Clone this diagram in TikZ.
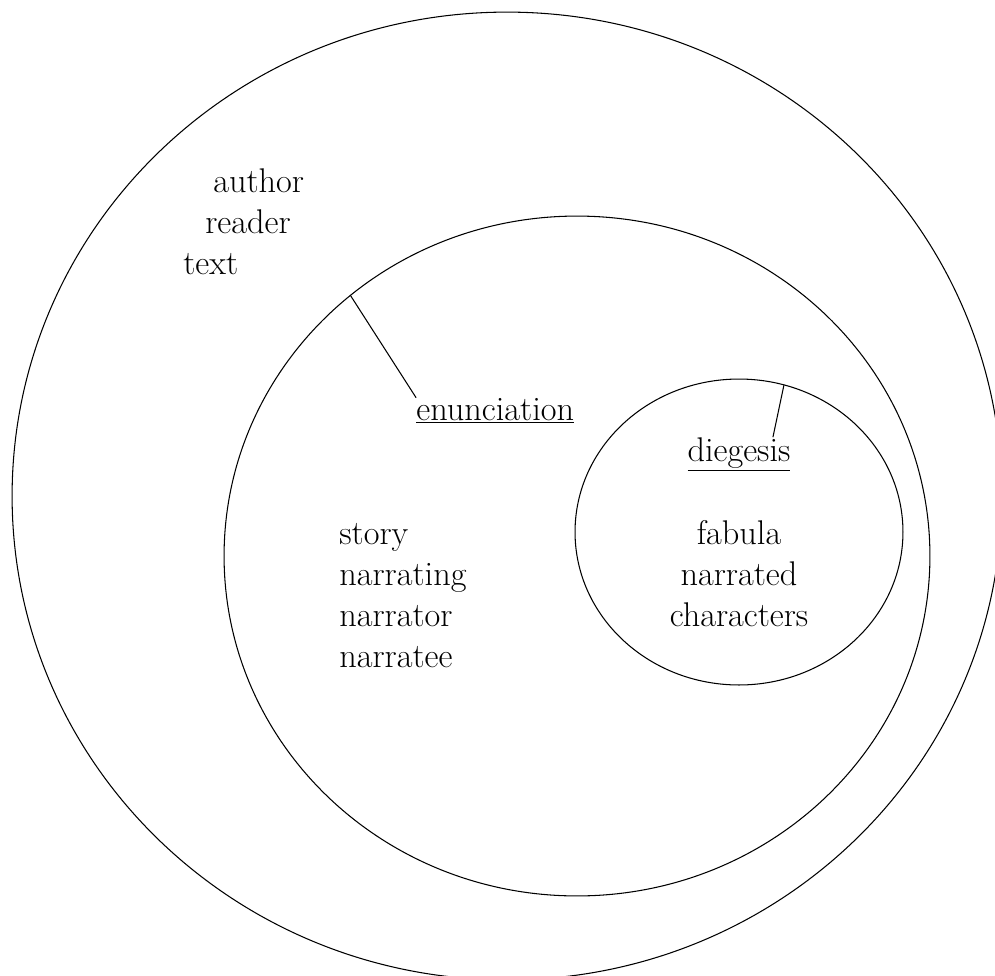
\documentclass[tikz,border=0pt]{standalone}
\usetikzlibrary{shapes.geometric,calc}

\tikzset{
  ring/.style={draw, ellipse, inner sep=0pt, outer sep=0pt, line width=0.6pt},
  word/.style={font=\fontsize{19.5}{24}\selectfont, inner sep=0pt},
}

\begin{document}
\begin{tikzpicture}[line cap=round,line join=round,x=0.02cm,y=-0.02cm]
\useasboundingbox (0,0) rectangle (995,975);
\clip (0,0) rectangle (995,975);

% the three rings
\node[ring, minimum width=19.8cm, minimum height=19.36cm] (outer) at (507,496) {};
\node[ring, minimum width=14.12cm, minimum height=13.6cm] (middle) at (577,556) {};
\node[ring, minimum width=6.56cm, minimum height=6.12cm] (inner) at (739,532) {};

% outer ring
\node[word, anchor=base west] (author) at (213,192) {author};
\node[word, anchor=base west] (reader) at (205,233) {reader};
\node[word, anchor=base west] (text) at (183,274) {text};

% middle ring
\node[word, anchor=base west] (enunciation) at (416,420) {\underline{enunciation}};
\node[word, anchor=base west] (story) at (339,544) {story};
\node[word, anchor=base west] (narrating) at (339,585) {narrating};
\node[word, anchor=base west] (narrator) at (339,626) {narrator};
\node[word, anchor=base west] (narratee) at (339,667) {narratee};

% inner ring
\node[word, anchor=base] (diegesis) at (739,461) {\underline{diegesis}};
\node[word, anchor=base] (fabula) at (739,544) {fabula};
\node[word, anchor=base] (narrated) at (739,585) {narrated};
\node[word, anchor=base] (characters) at (739,626) {characters};

\draw[line width=0.6pt] (middle.131.8) -- (enunciation.north west);
\draw[line width=0.6pt] (inner.73.6) -- ($(diegesis.north)+(34,0)$);
\end{tikzpicture}
\end{document}
